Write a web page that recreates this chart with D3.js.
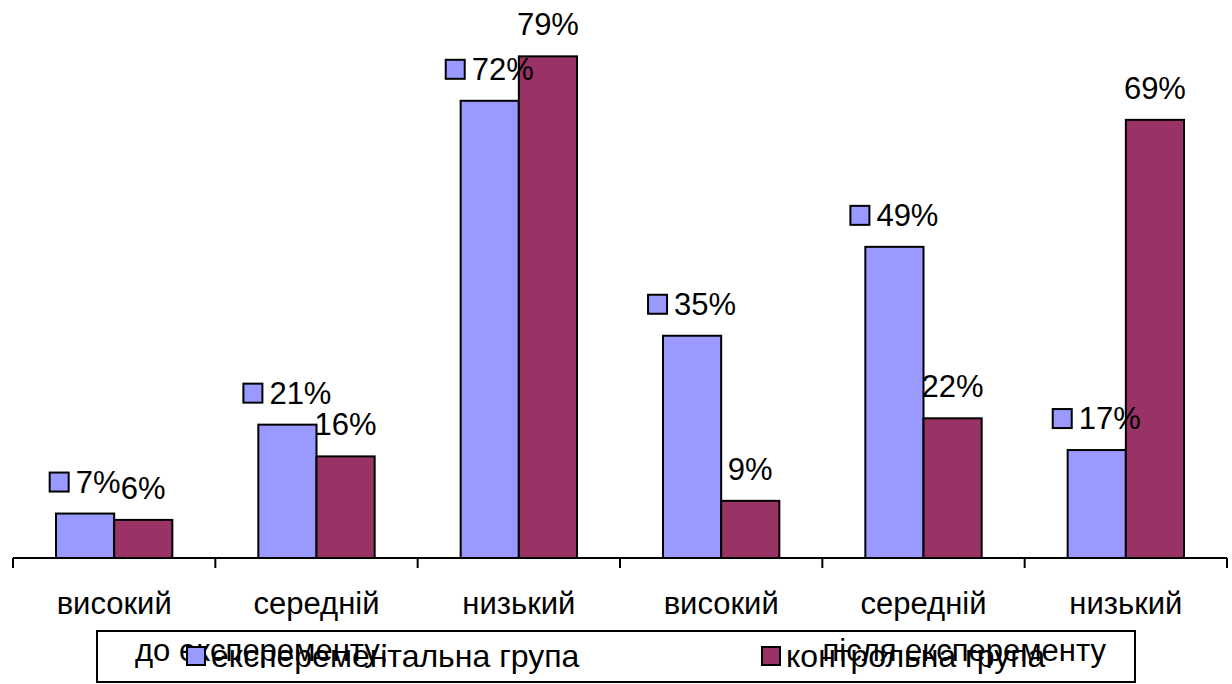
<!DOCTYPE html>
<html>
<head>
<meta charset="utf-8">
<script src="https://cdn.jsdelivr.net/npm/d3@7"></script>
<style>
  html, body { margin: 0; padding: 0; background: #fff; }
  svg { display: block; font-family: "Liberation Sans", Arial, sans-serif; }
</style>
</head>
<body>
<svg id="chart" width="1232" height="684"></svg>
<script>
// Levels of achievement, before and after the experiment
const categories = ["високий", "середній", "низький", "високий", "середній", "низький"];
const phases = ["до експеременту;", "після експеременту"];
const seriesNames = ["експерементальна група", "контрольна група"];
const experimental = [7, 21, 72, 35, 49, 17];
const control = [6, 16, 79, 9, 22, 69];

const colors = ["#9999FF", "#993366"];
const series = [experimental, control];

const svg = d3.select("#chart");

const x = d3.scaleBand()
  .domain(d3.range(categories.length))
  .range([13, 1227]);
const bw = x.bandwidth();
const xs = d3.scaleBand()
  .domain(d3.range(series.length))
  .range([bw * 0.2125, bw * 0.7875]);
const y = d3.scaleLinear().domain([0, 80]).range([558, 50]);

// Bars
series.forEach((vals, s) => {
  svg.append("g").selectAll("rect")
    .data(vals)
    .join("rect")
    .attr("x", (d, i) => x(i) + xs(s))
    .attr("y", d => y(d))
    .attr("width", xs.bandwidth())
    .attr("height", d => y(0) - y(d))
    .attr("fill", colors[s])
    .attr("stroke", "#000")
    .attr("stroke-width", 2);
});

// Category axis with ticks at band boundaries
const axisG = svg.append("g");
axisG.append("line")
  .attr("x1", x.range()[0]).attr("x2", x.range()[1])
  .attr("y1", y(0)).attr("y2", y(0))
  .attr("stroke", "#000").attr("stroke-width", 2);
const bounds = d3.range(categories.length + 1).map(i => x.range()[0] + i * x.step());
axisG.selectAll("line.tick")
  .data(bounds)
  .join("line")
  .attr("class", "tick")
  .attr("x1", d => d).attr("x2", d => d)
  .attr("y1", y(0)).attr("y2", y(0) + 10)
  .attr("stroke", "#000").attr("stroke-width", 2);
axisG.selectAll("text.cat")
  .data(categories)
  .join("text")
  .attr("class", "cat")
  .attr("x", (d, i) => x(i) + bw / 2)
  .attr("y", 614)
  .attr("text-anchor", "middle")
  .attr("font-size", 31)
  .attr("fill", "#000")
  .text(d => d);

// Second-level group labels
svg.append("text")
  .attr("x", 135).attr("y", 661)
  .attr("font-size", 31)
  .text(phases[0]);
svg.append("text")
  .attr("x", 1106).attr("y", 661)
  .attr("text-anchor", "end")
  .attr("font-size", 31)
  .text(phases[1]);

// Value labels: control group centred above its bar
const labelFont = 31;
svg.append("g").selectAll("text")
  .data(control)
  .join("text")
  .attr("x", (d, i) => x(i) + xs(1) + xs.bandwidth() / 2)
  .attr("y", d => y(d) - 21)
  .attr("text-anchor", "middle")
  .attr("font-size", labelFont)
  .text(d => d + "%");

// Value labels: experimental group with a legend key before the text
const expLabels = svg.append("g").selectAll("g")
  .data(experimental)
  .join("g");
expLabels.each(function(d, i) {
  const g = d3.select(this);
  const t = g.append("text")
    .attr("font-size", labelFont)
    .attr("y", y(d) - 21)
    .text(d + "%");
  const tw = t.node().getComputedTextLength();
  const key = 19, gap = 7;
  const total = key + gap + tw;
  const cx = x(i) + xs(0) + xs.bandwidth() / 2;
  const left = cx - total / 2;
  g.insert("rect", "text")
    .attr("x", left).attr("y", y(d) - 21 - 20)
    .attr("width", key).attr("height", key)
    .attr("fill", colors[0])
    .attr("stroke", "#000").attr("stroke-width", 2);
  t.attr("x", left + key + gap);
});

// Legend
const legend = svg.append("g");
legend.append("rect")
  .attr("x", 97).attr("y", 631)
  .attr("width", 1038).attr("height", 51)
  .attr("fill", "none")
  .attr("stroke", "#000").attr("stroke-width", 2);
const legendX = [187, 762];
seriesNames.forEach((name, s) => {
  legend.append("rect")
    .attr("x", legendX[s]).attr("y", 647)
    .attr("width", 18).attr("height", 18)
    .attr("fill", colors[s])
    .attr("stroke", "#000").attr("stroke-width", 2);
  legend.append("text")
    .attr("x", legendX[s] + 24).attr("y", 667)
    .attr("font-size", 32)
    .text(name);
});
</script>
</body>
</html>
